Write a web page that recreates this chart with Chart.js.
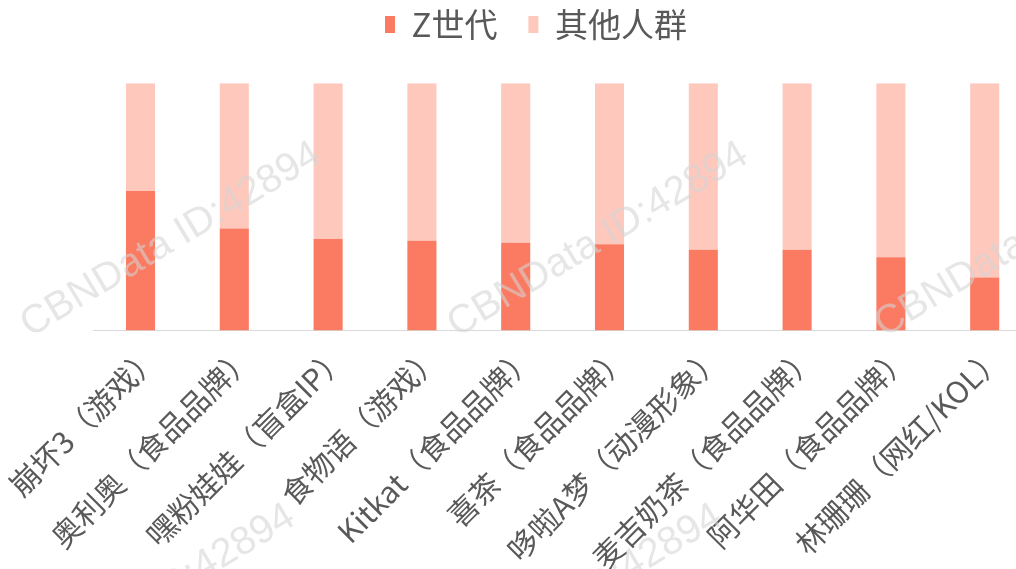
<!DOCTYPE html>
<html>
<head>
<meta charset="utf-8">
<script src="https://cdn.jsdelivr.net/npm/chart.js@4/dist/chart.umd.min.js"></script>
<style>
html,body{margin:0;padding:0;background:#fff;overflow:hidden;width:1016px;height:569px;}
#wrap{position:absolute;left:0;top:0;width:1040px;height:569px;}
</style>
</head>
<body>
<div id="wrap"><canvas id="c" width="1040" height="569"></canvas></div>
<script>
const categories = ["崩坏3（游戏）","奥利奥（食品品牌）","嘿粉娃娃（盲盒IP）","食物语（游戏）","Kitkat（食品品牌）","喜茶（食品品牌）","哆啦A梦（动漫形象）","麦吉奶茶（食品品牌）","阿华田（食品品牌）","林珊珊（网红/KOL）"];
const genZ = [56.4, 41.3, 37.0, 36.3, 35.5, 34.9, 32.7, 32.7, 29.6, 21.4];
const others = [43.6, 58.7, 63.0, 63.7, 64.5, 65.1, 67.3, 67.3, 70.4, 78.6];
const seriesNames = ["Z世代", "其他人群"];
const watermarkText = "CBNData ID:42894";

const FONT = "'Noto Sans CJK SC', 'Noto Sans', sans-serif";

const watermark = {
  id: 'watermark',
  afterDatasetsDraw(chart) {
    const ctx = chart.ctx;
    ctx.save();
    ctx.fillStyle = 'rgba(212,212,212,0.58)';
    ctx.font = '40px "Liberation Sans", Arial, sans-serif';
    ctx.textAlign = 'center';
    ctx.textBaseline = 'middle';
    const centers = [[171, 240], [598, 240], [1025, 240], [145, 602], [572, 602]];
    for (const c of centers) {
      ctx.save();
      ctx.translate(c[0], c[1]);
      ctx.rotate(-31 * Math.PI / 180);
      ctx.fillText(watermarkText, 0, 0);
      ctx.restore();
    }
    ctx.restore();
  }
};

const legendTweak = {
  id: 'legendTweak',
  afterInit(chart) {
    const lg = chart.legend;
    if (!lg) return;
    const orig = lg.fit.bind(lg);
    lg.fit = function () { orig(); this.height = 83.3; };
  },
  afterLayout(chart) {
    const lg = chart.legend;
    if (!lg || !lg.lineWidths) return;
    const pad = lg.options.labels.padding;
    const x0 = (lg.left + pad + lg.right - lg.lineWidths[0]) / 2;
    const shift = 385 - x0;
    lg.left += shift; lg.right += shift;
    const fs = lg.options.labels.font.size;
    lg.top = 24.5 - pad - fs / 2;
    lg.bottom = lg.top + lg.height;
  }
};

new Chart(document.getElementById('c'), {
  type: 'bar',
  data: {
    labels: categories,
    datasets: [
      { label: seriesNames[0], data: genZ, backgroundColor: '#FA7B62', borderWidth: 0, barPercentage: 0.31, categoryPercentage: 1 },
      { label: seriesNames[1], data: others, backgroundColor: '#FEC8BD', borderWidth: 0, barPercentage: 0.31, categoryPercentage: 1 }
    ]
  },
  options: {
    responsive: false,
    animation: false,
    devicePixelRatio: 1,
    layout: { padding: { left: 93.6, right: 8.4, top: 0, bottom: 0 } },
    plugins: {
      legend: {
        position: 'top',
        labels: {
          font: { family: FONT, size: 33 },
          color: '#595959',
          boxWidth: 10,
          boxHeight: 17,
          padding: 31
        }
      },
      tooltip: { enabled: false }
    },
    scales: {
      x: {
        stacked: true,
        offset: true,
        grid: { display: false, drawTicks: false },
        border: { display: true, color: '#D9D9D9', width: 1 },
        ticks: {
          font: { family: FONT, size: 30 },
          color: '#595959',
          minRotation: 45,
          maxRotation: 45,
          autoSkip: false,
          padding: 8,
          labelOffset: 13
        },
        afterFit(scale) {
          scale.height = 238.5;
          scale.paddingLeft = 0;
          scale.paddingRight = 0;
        }
      },
      y: {
        stacked: true,
        min: 0,
        max: 100,
        display: false
      }
    }
  },
  plugins: [legendTweak, watermark]
});
</script>
</body>
</html>
